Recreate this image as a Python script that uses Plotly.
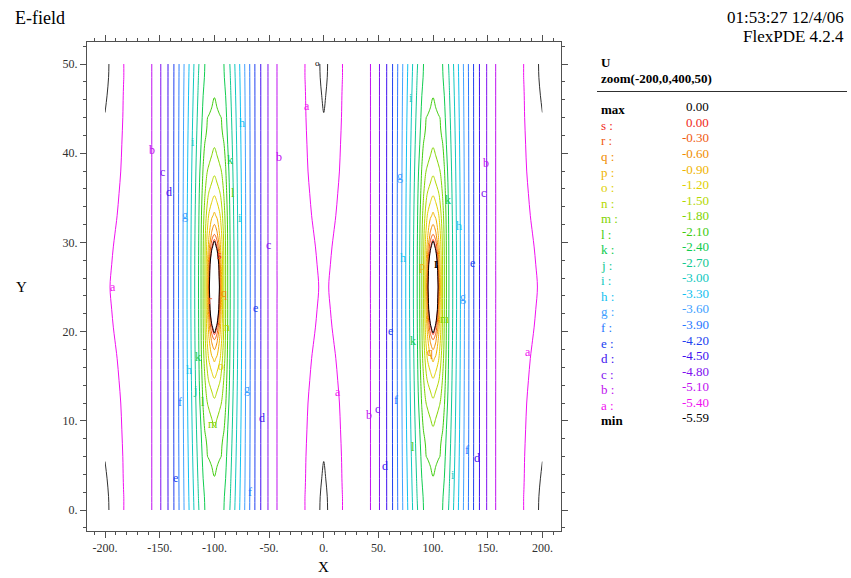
import numpy as np
import plotly.graph_objects as go

# ---------------- data ----------------
LEVEL_LETTERS = ['s', 'r', 'q', 'p', 'o', 'n', 'm', 'l', 'k', 'j',
                 'i', 'h', 'g', 'f', 'e', 'd', 'c', 'b', 'a']
LEVEL_VALUES = [0.00, -0.30, -0.60, -0.90, -1.20, -1.50, -1.80, -2.10, -2.40, -2.70,
                -3.00, -3.30, -3.60, -3.90, -4.20, -4.50, -4.80, -5.10, -5.40]
FIELD_MAX = 0.00
FIELD_MIN = -5.59

# electrode centres (two thin rods) and their outline level
ELECTRODE_X = [-100.0, 100.0]
ELECTRODE_Y = 25.0
ELECTRODE_EDGE_LEVEL = 0.10
CORNER_LEVEL = -5.555   # small dark closed curves at the minima

# quarter-cell sampling of U: D = distance from electrode centre in x,
# H = distance from the electrode mid-height in y (values estimated from the contours)
D_COLS = [0, 2.5, 4.3, 5.0, 5.6, 6.2, 6.9, 7.7, 8.7, 10.3, 12.2, 14.5, 18, 21.5, 25,
          28.7, 32.8, 37.2, 42.5, 49, 57.3, 70, 83, 91, 100]
H_ROWS = [0, 2.5, 4.5, 6, 8, 10.5, 13, 16, 19, 21.5, 23.5, 25]

U_H0_0 = [1.5, 1.0, 0.25, -0.12, -0.45, -0.73, -1.0, -1.25, -1.5, -1.8, -2.1, -2.4, -2.7, -3.0, -3.3,
          -3.6, -3.9, -4.2, -4.5, -4.799, -5.099, -5.20, -5.30, -5.37, -5.43]
U_H2_5 = [1.3, 0.8, -0.06, -0.39, -0.64, -0.87, -1.06, -1.26, -1.51, -1.80, -2.10, -2.405, -2.703, -3.0, -3.3,
          -3.6, -3.9, -4.2, -4.5, -4.799, -5.1, -5.205, -5.31, -5.38, -5.44]
U_H4_5 = [0.45, -0.067, -0.555, -0.747, -0.909, -1.02, -1.15, -1.32, -1.54, -1.82, -2.108, -2.415, -2.71, -3.008, -3.305,
          -3.602, -3.9, -4.2, -4.5, -4.799, -5.1, -5.21, -5.32, -5.39, -5.45]
U_H6_0 = [-0.355, -0.565, -0.853, -0.962, -1.046, -1.131, -1.242, -1.403, -1.586, -1.845, -2.12, -2.427, -2.719, -3.014, -3.309,
          -3.604, -3.902, -4.2, -4.5, -4.799, -5.1, -5.215, -5.33, -5.40, -5.46]
U_H8_0 = [-0.836, -0.961, -1.109, -1.167, -1.23, -1.319, -1.424, -1.541, -1.681, -1.897, -2.15, -2.447, -2.733, -3.024, -3.315,
          -3.607, -3.903, -4.201, -4.5, -4.799, -5.1, -5.22, -5.34, -5.42, -5.475]
U_H10_5 = [-1.243, -1.363, -1.450, -1.483, -1.524, -1.581, -1.647, -1.723, -1.82, -1.985, -2.214, -2.479, -2.755, -3.040, -3.326,
           -3.612, -3.906, -4.202, -4.501, -4.799, -5.1, -5.23, -5.355, -5.44, -5.49]
U_H13_0 = [-1.568, -1.657, -1.721, -1.746, -1.767, -1.789, -1.828, -1.886, -1.959, -2.075, -2.301, -2.515, -2.782, -3.061, -3.339,
           -3.618, -3.909, -4.203, -4.501, -4.799, -5.101, -5.24, -5.37, -5.46, -5.51]
U_H16_0 = [-1.832, -1.906, -1.958, -1.979, -1.997, -2.014, -2.035, -2.058, -2.088, -2.217, -2.402, -2.564, -2.82, -3.089, -3.357,
           -3.627, -3.913, -4.204, -4.502, -4.799, -5.101, -5.25, -5.38, -5.475, -5.53]
U_H19_0 = [-1.993, -2.036, -2.067, -2.079, -2.089, -2.098, -2.141, -2.189, -2.249, -2.345, -2.465, -2.615, -2.861, -3.121, -3.378,
           -3.638, -3.919, -4.207, -4.503, -4.799, -5.101, -5.26, -5.39, -5.49, -5.55]
U_H21_5 = [-2.1125, -2.182, -2.233, -2.252, -2.269, -2.286, -2.306, -2.328, -2.356, -2.401, -2.517, -2.658, -2.899, -3.149, -3.396,
           -3.647, -3.924, -4.208, -4.503, -4.799, -5.101, -5.265, -5.395, -5.495, -5.57]
U_H23_5 = [-2.1625, -2.225, -2.27, -2.288, -2.303, -2.318, -2.336, -2.356, -2.381, -2.449, -2.559, -2.692, -2.93, -3.173, -3.411,
           -3.656, -3.928, -4.21, -4.504, -4.799, -5.101, -5.27, -5.401, -5.50, -5.585]
U_H25_0 = [-2.2, -2.257, -2.298, -2.314, -2.327, -2.341, -2.357, -2.375, -2.398, -2.483, -2.589, -2.72, -2.953, -3.191, -3.423,
           -3.663, -3.932, -4.211, -4.505, -4.799, -5.101, -5.27, -5.401, -5.50, -5.59]

# contour letters placed on the plot (data coordinates)
LABEL_X = [-15.4, -157.0, -41.0, -147.9, -141.5, -127.0, -75.0, -119.3, -85.7, -82.7,
           -76.6, -50.7, -94.9, -91.2, -104.0, -62.0, -88.8, -114.7, -122.9, -94.2,
           -117.7, -110.1, -131.4, -69.9, -101.0, -56.8, -136.0, -67.5, -192.7,
           13.0, 41.3, 49.5, 55.9, 61.1, 66.0, 70.1, 72.7, 79.4, 113.8,
           123.9, 136.1, 89.8, 127.5, 110.8, 81.8, 97.1, 81.8, 130.6,
           140.3, 117.8, 148.3, 146.4, 186.7]
LABEL_Y = [45.3, 40.4, 39.6, 37.9, 35.7, 33.1, 43.4, 41.3, 39.2, 35.5,
           32.7, 29.7, 28.6, 24.3, 23.5, 22.6, 20.5, 17.2, 15.7, 16.1,
           13.5, 12.1, 12.1, 13.6, 9.7, 10.3, 3.6, 2.0, 25.0,
           13.2, 10.7, 11.3, 4.9, 20.1, 12.3, 37.4, 28.2, 46.2, 34.8,
           31.8, 27.7, 27.4, 23.9, 21.4, 18.9, 17.7, 7.1, 6.7,
           5.8, 3.9, 38.9, 35.5, 17.7]
LABEL_TEXT = ['a', 'b', 'b', 'c', 'd', 'g', 'h', 'i', 'k', 'l',
              'i', 'c', 's', 'q', 'r', 'e', 'n', 'k', 'h', 'o',
              'j', 'l', 'f', 'g', 'm', 'd', 'e', 'f', 'a',
              'a', 'b', 'c', 'd', 'e', 'f', 'g', 'h', 'i', 'k',
              'h', 'e', 'p', 'g', 'm', 'k', 'q', 'l', 'f',
              'd', 'i', 'b', 'c', 'a']

# extreme markers
MIN_MARK = (-5.3, 50.1)
MAX_MARK = (103.0, 27.5)

X_TICKS = [-200, -150, -100, -50, 0, 50, 100, 150, 200]
Y_TICKS = [0, 10, 20, 30, 40, 50]

# ---------------- style ----------------
LEVEL_COLORS = ['#f02818', '#f05a10', '#f08c00', '#f0b400', '#e0d000', '#b4d800', '#80d400',
                '#40cc10', '#10cc50', '#10c890', '#10c8c0', '#10c0f0', '#40a0ff', '#2878ff',
                '#2040f0', '#4010f0', '#8010f0', '#c010f0', '#f010f0']
SERIF = 'Liberation Serif, Times New Roman, serif'
W, H = 851, 578
PL, PR, PT, PB = 87, 561, 42, 531   # plot area in pixels

# ---------------- build field by mirroring the quarter cell ----------------
Q = np.array([U_H0_0, U_H2_5, U_H4_5, U_H6_0, U_H8_0, U_H10_5, U_H13_0,
              U_H16_0, U_H19_0, U_H21_5, U_H23_5, U_H25_0])
D = np.array(D_COLS, dtype=float)
Hh = np.array(H_ROWS, dtype=float)
d_sym = np.concatenate([-D[::-1], D[1:]])
q_sym = np.concatenate([Q[:, ::-1], Q[:, 1:]], axis=1)
x_full = np.concatenate([ELECTRODE_X[0] + d_sym, ELECTRODE_X[1] + d_sym[1:]])
z_cols = np.concatenate([q_sym, q_sym[:, 1:]], axis=1)
y_full = np.concatenate([ELECTRODE_Y - Hh[::-1], ELECTRODE_Y + Hh[1:]])
z_full = np.concatenate([z_cols[::-1], z_cols[1:]], axis=0)

fig = go.Figure()
EPS = 0.0005


def add_level(level, color, width=1.0):
    fig.add_trace(go.Contour(
        x=x_full, y=y_full, z=z_full, autocontour=False,
        contours=dict(start=level + EPS, end=level + EPS, size=1.0, coloring='none',
                      showlabels=False),
        line=dict(color=color, width=width, smoothing=1.0),
        showscale=False, hoverinfo='skip'))


for lv, col in zip(LEVEL_VALUES, LEVEL_COLORS):
    add_level(lv, col)
add_level(ELECTRODE_EDGE_LEVEL, '#000000', 1.0)
add_level(CORNER_LEVEL, '#303030', 1.0)

color_of = dict(zip(LEVEL_LETTERS, LEVEL_COLORS))
ann = []
for lx, ly, lt in zip(LABEL_X, LABEL_Y, LABEL_TEXT):
    ann.append(dict(x=lx, y=ly, xref='x', yref='y', text=lt, showarrow=False,
                    font=dict(family=SERIF, size=12, color=color_of[lt])))
ann.append(dict(x=MIN_MARK[0], y=MIN_MARK[1], xref='x', yref='y', text='o', showarrow=False,
                font=dict(family=SERIF, size=9, color='#000000')))
ann.append(dict(x=MAX_MARK[0], y=MAX_MARK[1], xref='x', yref='y', text='<b>I</b>', showarrow=False,
                font=dict(family=SERIF, size=10, color='#000000')))


def px(xp):
    return (xp - PL) / (PR - PL)


def py(yp):
    return (PB - yp) / (PB - PT)


def text_at(xp, yp, s, size, color='#000000', xanchor='left', bold=False):
    ann.append(dict(x=px(xp), y=py(yp), xref='paper', yref='paper',
                    text=('<b>%s</b>' % s) if bold else s, showarrow=False,
                    xanchor=xanchor, yanchor='middle',
                    font=dict(family=SERIF, size=size, color=color)))


# header texts
text_at(13, 18, 'E-field', 18)
text_at(846, 17, '01:53:27 12/4/06', 17, xanchor='right')
text_at(846, 37, 'FlexPDE 4.2.4', 17, xanchor='right')
# axis titles
text_at(323, 567, 'X', 15, xanchor='center')
text_at(21, 287, 'Y', 15, xanchor='center')

# legend block
text_at(599, 62, 'U', 13, bold=True)
text_at(599, 78, 'zoom(-200,0,400,50)', 13, bold=True)
row0, step = 106.8, 15.55
text_at(599, row0 + 3, 'max', 13, bold=True)
text_at(711, row0, '%.2f' % FIELD_MAX, 13, xanchor='right')
for i, (lt, lv, col) in enumerate(zip(LEVEL_LETTERS, LEVEL_VALUES, LEVEL_COLORS)):
    yy = row0 + (i + 1) * step
    text_at(599, yy + 3, lt + ' :', 13, color=col)
    text_at(711, yy, '%.2f' % lv, 13, color=col, xanchor='right')
ymin = row0 + (len(LEVEL_LETTERS) + 1) * step
text_at(599, ymin + 3, 'min', 13, bold=True)
text_at(711, ymin, '%.2f' % FIELD_MIN, 13, xanchor='right')

shapes = [dict(type='line', xref='paper', yref='paper', x0=px(597), x1=px(847),
               y0=py(91.5), y1=py(91.5), line=dict(color='#303030', width=1))]

axis_common = dict(showgrid=False, zeroline=False, showline=True, linecolor='#505050',
                   linewidth=1, mirror='ticks', ticks='outside', ticklen=6,
                   tickcolor='#505050', tickfont=dict(family=SERIF, size=12, color='#303030'))

fig.update_layout(
    width=W, height=H,
    margin=dict(l=PL, r=W - PR, t=PT, b=H - PB, pad=0),
    paper_bgcolor='white', plot_bgcolor='white',
    showlegend=False,
    xaxis=dict(range=[-216.5, 217.0], tickvals=X_TICKS,
               ticktext=['%d.' % v for v in X_TICKS],
               minor=dict(dtick=10, ticks='outside', ticklen=3, tickcolor='#505050'),
               **axis_common),
    yaxis=dict(range=[-2.35, 52.47], tickvals=Y_TICKS,
               ticktext=['%d.' % v for v in Y_TICKS],
               minor=dict(dtick=2, ticks='outside', ticklen=3, tickcolor='#505050'),
               **axis_common),
    annotations=ann,
    shapes=shapes,
)

fig.write_html('out.html', config={'displayModeBar': False})
